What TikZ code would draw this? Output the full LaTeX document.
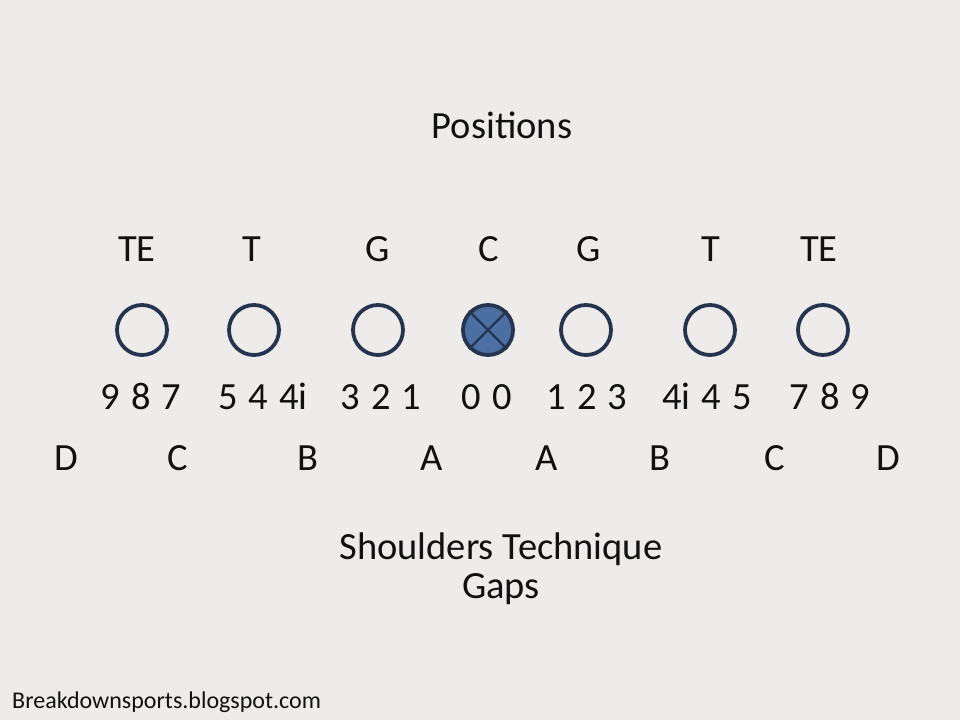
\documentclass[tikz,border=0pt]{standalone}
\usepackage{fontspec}
\setmainfont{Carlito}
\definecolor{paper}{HTML}{EDECEA}
\definecolor{ring}{HTML}{27344F}
\definecolor{center}{HTML}{4C6FA3}
\definecolor{ink}{HTML}{111111}
\newcommand\techfont{\fontsize{38.5}{44}\selectfont\spaceskip 11pt plus 0pt\relax}

\begin{document}
\begin{tikzpicture}[x=1pt,y=-1pt,
  lbl/.style={anchor=base,inner sep=0pt,text=ink,font=\fontsize{38.5}{44}\selectfont},
  tech/.style={lbl,font=\techfont},
  foot/.style={anchor=base west,inner sep=0pt,text=ink,font=\fontsize{24}{28}\selectfont},
  man/.style={circle,draw=ring,line width=3.8pt,minimum size=50pt,inner sep=0pt}]
% page: 960 x 720, y runs downwards
\fill[paper] (0,0) rectangle (960,720);
\useasboundingbox (0,0) rectangle (960,720);
\node[lbl] (title) at (502,138) {Positions};
% line-up labels
\node[lbl] (lte) at (137,261) {TE};
\node[lbl] (lt) at (252,261) {T};
\node[lbl] (lg) at (378,261) {G};
\node[lbl] (lc) at (489,261) {C};
\node[lbl] (rg) at (589,261) {G};
\node[lbl] (rt) at (711,261) {T};
\node[lbl] (rte) at (819,261) {TE};
% linemen
\node[man] (mlte) at (142,330) {};
\node[man] (mlt) at (254,330) {};
\node[man] (mlg) at (378,330) {};
\node[man,fill=center] (mc) at (488,330) {};
\node[man] (mrg) at (586,330) {};
\node[man] (mrt) at (710,330) {};
\node[man] (mrte) at (823,330) {};
\draw[ring,line width=2.4pt] (mc.north west)--(mc.south east);
\draw[ring,line width=2.4pt] (mc.north east)--(mc.south west);
% shoulder techniques
\node[tech] (tlte) at (141,409) {9 8 7};
\node[tech] (tlt) at (263,409) {5 4 4i};
\node[tech] (tlg) at (381,409) {3 2 1};
\node[tech] (tc) at (487,409) {0 0};
\node[tech] (trg) at (587,409) {1 2 3};
\node[tech] (trt) at (707,409) {4i 4 5};
\node[tech] (trte) at (830,409) {7 8 9};
% gaps
\node[lbl] (gld) at (66,470) {D};
\node[lbl] (glc) at (178,470) {C};
\node[lbl] (glb) at (308,470) {B};
\node[lbl] (gla) at (432,470) {A};
\node[lbl] (gra) at (547,470) {A};
\node[lbl] (grb) at (660,470) {B};
\node[lbl] (grc) at (775,470) {C};
\node[lbl] (grd) at (888,470) {D};
% legend
\node[lbl] (shoulders) at (501,559) {Shoulders Technique};
\node[lbl] (gaps) at (501,598) {Gaps};
\node[foot] (site) at (12,708) {Breakdownsports.blogspot.com};
\end{tikzpicture}
\end{document}
